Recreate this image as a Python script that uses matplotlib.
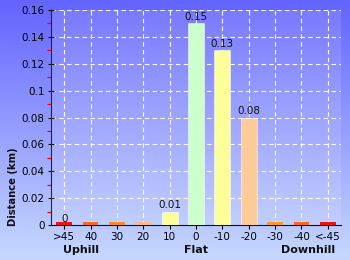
import matplotlib.pyplot as plt
import numpy as np

# slope bins and distance (km) per bin
categories = ['>45', '40', '30', '20', '10', '0', '-10', '-20', '-30', '-40', '<-45']
distances = [0, 0, 0, 0, 0.01, 0.15, 0.13, 0.08, 0, 0, 0]
bar_labels = ['0', '', '', '', '0.01', '0.15', '0.13', '0.08', '', '', '']
bar_colors = ['#ee1111', '#ff6a1a', '#ff8c1a', '#ffb888', '#ffff99', '#ccffcc',
              '#ffff99', '#ffcc99', '#ff9a1a', '#ff6a1a', '#ee1111']
groups = ['Uphill', 'Flat', 'Downhill']
group_pos = [0.65, 5, 9.25]
y_ticks = [0, 0.02, 0.04, 0.06, 0.08, 0.1, 0.12, 0.14, 0.16]
y_minor = [0.01, 0.03, 0.05, 0.07, 0.09, 0.11, 0.13, 0.15]

fig = plt.figure(figsize=(3.5, 2.6), dpi=100)

# gradient background
bg = fig.add_axes([0, 0, 1, 1], zorder=-10)
grad = np.linspace(0, 1, 256).reshape(-1, 1)
top = np.array([0.39, 0.39, 1.0])
bot = np.array([0.78, 0.85, 1.0])
img = top + (bot - top) * grad[:, :, None]
bg.imshow(img, aspect='auto', extent=[0, 1, 0, 1])
bg.axis('off')

ax = fig.add_axes([51 / 350, 35 / 260, 290 / 350, 215 / 260])
ax.set_facecolor((1, 1, 1, 0.12))

x = np.arange(len(categories))
shown = np.maximum(distances, 0.002)  # zero bins still show a thin bar
edges = [(1, 1, 1, 0.6) if v > 0 else 'none' for v in distances]
ax.bar(x, shown, width=0.6, color=bar_colors, edgecolor=edges,
       linewidth=0.6, zorder=3)
for xi, v, lab in zip(x, distances, bar_labels):
    if lab:
        ax.text(xi, v + 0.0008, lab, ha='center', va='bottom', fontsize=7.5,
                color='#111111', zorder=4)

ax.set_xlim(-0.5, len(categories) - 0.5)
ax.set_ylim(0, 0.16)
ax.set_xticks(x)
ax.set_xticklabels(categories, fontsize=7.5)
ax.set_yticks(y_ticks)
ax.set_yticklabels(['0', '0.02', '0.04', '0.06', '0.08', '0.1', '0.12', '0.14', '0.16'],
                   fontsize=7.5)
ax.set_yticks(y_minor, minor=True)
ax.tick_params(axis='y', which='major', direction='inout', length=5, width=0.8, pad=2)
ax.tick_params(axis='y', which='minor', direction='out', length=3, width=0.9,
               color='red', left=True)
ax.tick_params(axis='x', direction='out', length=3, width=0.8, pad=2)

ax.grid(True, which='major', color=(1, 1, 1, 0.16), linestyle=(0, (4, 3)),
        linewidth=0.8, zorder=0)
ax.set_axisbelow(True)
for s in ['top', 'right']:
    ax.spines[s].set_visible(False)
ax.spines['left'].set_color('#332222')
ax.spines['bottom'].set_color('#111111')

for g, gp in zip(groups, group_pos):
    ax.text(gp, -0.115, g, transform=ax.get_xaxis_transform(), ha='center',
            va='center', fontsize=8, fontweight='bold', color='#111111')

fig.text(13 / 350, 1 - 187 / 260, 'Distance (km)', rotation=90, ha='center',
         va='center', fontsize=7.2, fontweight='bold', color='#111111')

plt.savefig('out.png', dpi=100)
